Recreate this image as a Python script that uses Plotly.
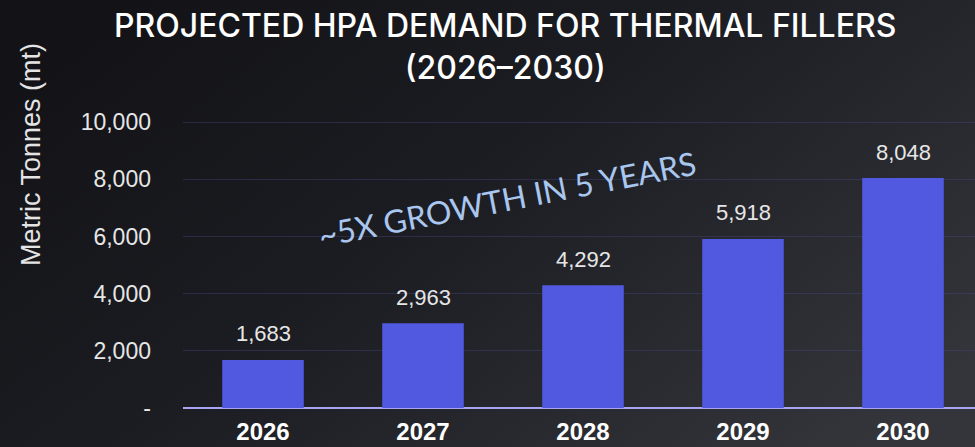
import plotly.graph_objects as go
import base64

years = ["2026", "2027", "2028", "2029", "2030"]
demand = [1683, 2963, 4292, 5918, 8048]
ytick_vals = [0, 2000, 4000, 6000, 8000, 10000]
ytick_text = ["-", "2,000", "4,000", "6,000", "8,000", "10,000"]

W, H = 975, 447
ML, MR, MT, MB = 183, 0, 108, 39
pw, ph = W - ML - MR, H - MT - MB

def px(x):
    return (x - ML) / pw

def py(y):
    return (H - MB - y) / ph

svg = f'''<svg xmlns="http://www.w3.org/2000/svg" width="{W}" height="{H}" viewBox="0 0 {W} {H}" preserveAspectRatio="none">
<defs><linearGradient id="g" x1="0" y1="0.2" x2="1" y2="0.8">
<stop offset="0" stop-color="#121217"/><stop offset="0.45" stop-color="#1c1d22"/><stop offset="1" stop-color="#33353a"/>
</linearGradient></defs><rect width="{W}" height="{H}" fill="url(#g)"/></svg>'''
bg_src = "data:image/svg+xml;base64," + base64.b64encode(svg.encode()).decode()

fig = go.Figure()
fig.add_trace(go.Bar(
    x=years, y=demand, width=0.51,
    marker=dict(color="#5059df", line=dict(width=0)),
    hoverinfo="skip",
))

for i, v in enumerate(demand):
    fig.add_annotation(x=i, y=v, text=f"{v:,}", showarrow=False, yshift=26,
                       xanchor="center", yanchor="middle",
                       font=dict(family="Liberation Sans, Arial, sans-serif", size=22, color="#e6e6e6"))

fig.add_annotation(xref="paper", yref="paper", x=px(507), y=py(198),
                   xanchor="center", yanchor="middle",
                   text="~5X GROWTH IN 5 YEARS", showarrow=False, textangle=-11,
                   font=dict(family="Lato, sans-serif", size=32, color="#a9c6ee"))

fig.add_annotation(xref="paper", yref="paper", x=px(31), y=py(155),
                   xanchor="center", yanchor="middle",
                   text="Metric Tonnes (mt)", showarrow=False, textangle=-90,
                   font=dict(family="Liberation Sans, Arial, sans-serif", size=27, color="#e4e4e4"))

fig.add_annotation(xref="paper", yref="paper", x=px(505), y=py(47),
                   xanchor="center", yanchor="middle",
                   text="PROJECTED HPA DEMAND FOR THERMAL FILLERS<br>(2026–2030)",
                   showarrow=False, align="center",
                   font=dict(family="Inter, sans-serif", size=32, color="#ffffff", weight=500))

fig.add_layout_image(dict(source=bg_src, xref="paper", yref="paper",
                          x=-ML / pw, y=1 + MT / ph, sizex=W / pw, sizey=H / ph,
                          xanchor="left", yanchor="top", sizing="stretch", layer="below"))

fig.update_layout(
    width=W, height=H,
    margin=dict(l=ML, r=MR, t=MT, b=MB, pad=0, autoexpand=False),
    paper_bgcolor="#1d1e23", plot_bgcolor="rgba(0,0,0,0)",
    showlegend=False,
    xaxis=dict(range=[-0.5, 4.45], showgrid=False, zeroline=False, showline=False,
               ticks="", ticklabelstandoff=7, automargin=False,
               tickfont=dict(family="Liberation Sans Narrow, Arial Narrow, Arial, sans-serif",
                             size=24, color="#ffffff", weight="bold")),
    yaxis=dict(range=[0, 10500], tickvals=ytick_vals, ticktext=ytick_text,
               showgrid=True, gridcolor="rgba(70,70,130,0.4)", gridwidth=1,
               zeroline=True, zerolinecolor="#a9a4f2", zerolinewidth=2,
               showline=False, ticks="", ticklabelstandoff=31, automargin=False,
               tickfont=dict(family="Liberation Sans, Arial, sans-serif", size=23, color="#e6e6e6")),
)

fig.write_html("out.html", config={"displayModeBar": False},
               post_script="document.body.style.margin='0';document.body.style.background='#1d1e23';")
